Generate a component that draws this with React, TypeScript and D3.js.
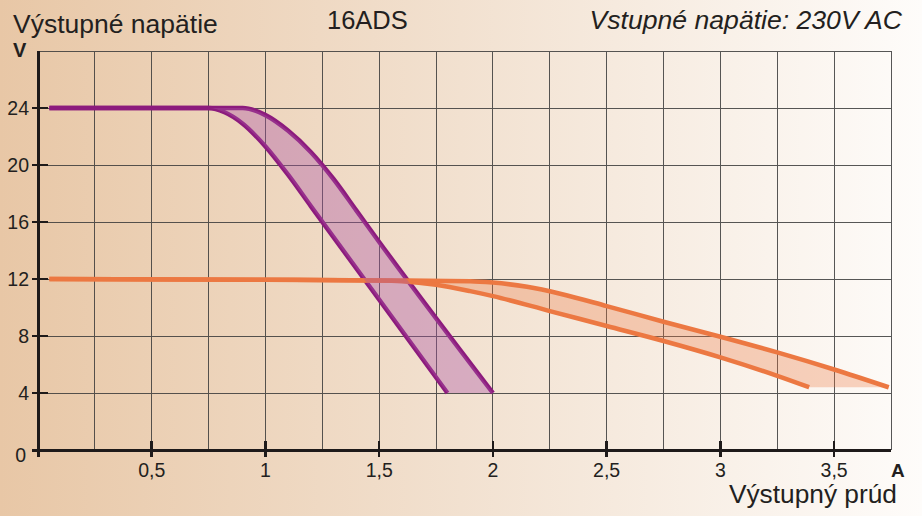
import React from "react";
import * as d3 from "d3";

const W = 922;
const H = 516;

// Data (A, V)
const purpleOuter: [number, number][] = [
  [0.05, 24], [0.9, 24], [1.0, 23.5], [1.1, 22.4], [1.2, 20.9], [1.3, 19.0], [1.4, 16.8], [1.5, 14.6], [2.0, 4],
];
const purpleInner: [number, number][] = [
  [0.05, 24], [0.75, 24], [0.82, 23.7], [0.9, 22.9], [1.0, 21.3], [1.1, 19.3], [1.2, 17.1], [1.8, 4],
];
const orangeOuter: [number, number][] = [
  [0.05, 12], [1.0, 11.95], [1.5, 11.9], [1.9, 11.85], [2.0, 11.75], [2.15, 11.45], [2.3, 10.95], [2.5, 10.1], [2.75, 9.0], [3.0, 7.95], [3.25, 6.85], [3.5, 5.65], [3.74, 4.4],
];
const orangeInner: [number, number][] = [
  [0.05, 12], [1.0, 11.95], [1.5, 11.9], [1.6, 11.85], [1.75, 11.6], [1.9, 11.15], [2.0, 10.8], [2.25, 9.75], [2.5, 8.7], [2.75, 7.65], [3.0, 6.5], [3.25, 5.2], [3.39, 4.4],
];

const xTicks = [0.5, 1, 1.5, 2, 2.5, 3, 3.5];
const xTickLabels = ["0,5", "1", "1,5", "2", "2,5", "3", "3,5"];
const yTicks = [4, 8, 12, 16, 20, 24];
const xGrid = d3.range(1, 16).map((i) => i * 0.25);
const yGrid = [4, 8, 12, 16, 20, 24, 28];

const FONT = "'Liberation Sans', Arial, sans-serif";
const TXT = "#231f20";

export default function App() {
  const x = d3.scaleLinear().domain([0, 3.75]).range([38, 891]);
  const y = d3.scaleLinear().domain([0, 28]).range([450, 51]);
  const line = d3
    .line<[number, number]>()
    .x((d) => x(d[0]))
    .y((d) => y(d[1]))
    .curve(d3.curveMonotoneX);

  const band = (outer: [number, number][], inner: [number, number][]) => {
    const a = line(outer) || "";
    const b = (line(inner.slice().reverse()) || "").replace(/^M/, "L");
    return a + b + "Z";
  };

  const purple = "#8c1b7d";
  const orange = "#ec7842";

  return (
    <svg
      width={W}
      height={H}
      style={{ position: "absolute", left: 0, top: 0 }}
      fontFamily={FONT}
    >
      <defs>
        <linearGradient id="bg" x1="0" y1="0" x2="1" y2="0">
          <stop offset="0" stopColor="#e8c7a6" />
          <stop offset="0.5" stopColor="#f2e1d0" />
          <stop offset="1" stopColor="#fefcfa" />
        </linearGradient>
      </defs>
      <rect x={0} y={0} width={W} height={H} fill="url(#bg)" />

      {/* grid */}
      <g stroke="#3a3a3a" strokeWidth={1} shapeRendering="crispEdges" opacity={0.85}>
        {xGrid.map((v) => (
          <line key={"gx" + v} x1={x(v)} x2={x(v)} y1={y(28)} y2={y(0)} />
        ))}
        {yGrid.map((v) => (
          <line key={"gy" + v} x1={x(0)} x2={x(3.75)} y1={y(v)} y2={y(v)} />
        ))}
      </g>

      {/* bands */}
      <path d={band(orangeOuter, orangeInner)} fill={orange} fillOpacity={0.31} stroke="none" />
      <g fill="none" strokeWidth={4.5} strokeLinejoin="round">
        <path d={line(purpleOuter) || ""} stroke={purple} />
        <path d={line(purpleInner) || ""} stroke={purple} />
        <path d={line(orangeOuter) || ""} stroke={orange} />
        <path d={line(orangeInner) || ""} stroke={orange} />
      </g>
      <path d={band(purpleOuter, purpleInner)} fill="rgb(170,85,165)" fillOpacity={0.38} stroke="none" />

      {/* axes */}
      <g stroke="#1e1a1a" shapeRendering="crispEdges">
        <line x1={x(0)} x2={x(0)} y1={y(28)} y2={457} strokeWidth={3} />
        <line x1={32} x2={x(3.75)} y1={y(0)} y2={y(0)} strokeWidth={3} />
        {yTicks.map((v) => (
          <line key={"ty" + v} x1={32} x2={48} y1={y(v)} y2={y(v)} strokeWidth={2.5} />
        ))}
        {xTicks.map((v) => (
          <line key={"tx" + v} x1={x(v)} x2={x(v)} y1={441} y2={457} strokeWidth={2.5} />
        ))}
      </g>

      {/* tick labels */}
      <g fill={TXT} fontSize={19.5}>
        {yTicks.map((v) => (
          <text key={"ly" + v} x={29} y={y(v) + 7} textAnchor="end">
            {v}
          </text>
        ))}
        <text x={26} y={462} textAnchor="end">0</text>
        {xTicks.map((v, i) => (
          <text key={"lx" + v} x={x(v)} y={477} textAnchor="middle">
            {xTickLabels[i]}
          </text>
        ))}
      </g>

      {/* titles */}
      <text x={13} y={33} fontSize={26.5} fill={TXT}>Výstupné napätie</text>
      <text x={327} y={29} fontSize={25.5} fill={TXT}>16ADS</text>
      <text x={902} y={29} fontSize={26.6} fontStyle="italic" textAnchor="end" fill={TXT}>
        Vstupné napätie: 230V AC
      </text>
      <text x={13} y={57} fontSize={20} fontWeight="bold" fill={TXT}>V</text>
      <text x={891} y={477} fontSize={19} fontWeight="bold" fill={TXT}>A</text>
      <text x={897} y={503} fontSize={26.3} textAnchor="end" fill={TXT}>Výstupný prúd</text>
    </svg>
  );
}
